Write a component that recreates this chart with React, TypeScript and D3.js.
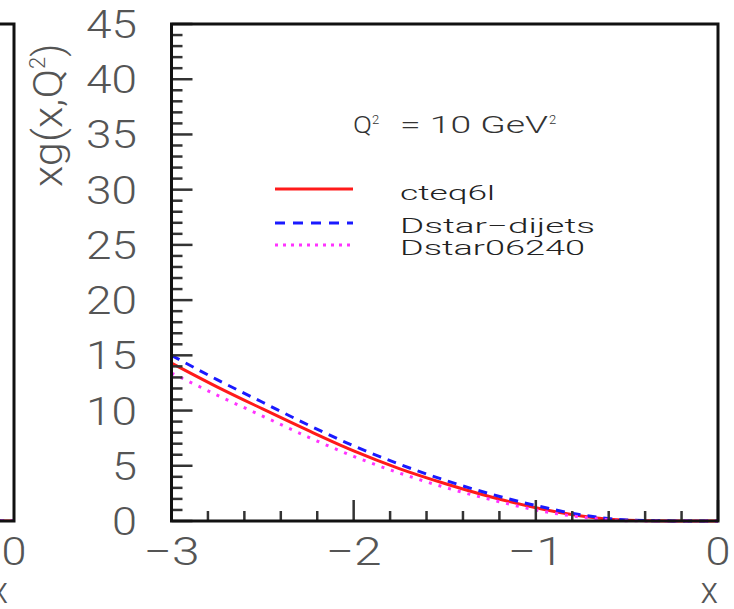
import React from "react";
import * as d3 from "d3";

const xs = [-3, -2.75, -2.5, -2.25, -2, -1.75, -1.5, -1.25, -1, -0.75, -0.5, -0.25, 0];
const cteq6l = [14.3, 12.15, 10.15, 8.2, 6.35, 4.75, 3.4, 2.2, 1.2, 0.45, 0.06, 0, 0];
const dstarDijets = [15.0, 12.8, 10.75, 8.7, 6.8, 5.15, 3.7, 2.45, 1.4, 0.55, 0.1, 0.01, 0];
const dstar06240 = [13.4, 11.4, 9.5, 7.6, 5.85, 4.35, 3.05, 1.95, 1.0, 0.35, 0.03, 0, 0];

const seriesNames = ["cteq6l", "Dstar\u2212dijets", "Dstar06240"];
const seriesValues = [cteq6l, dstarDijets, dstar06240];
const seriesColors = ["#ff1a1a", "#1a1aff", "#ff33ff"];
const seriesDash = ["none", "9,7", "3,7"];
const legendDash = ["none", "10,8", "3,5"];

const xTickValues = [-3, -2, -1, 0];
const yTickValues = [0, 5, 10, 15, 20, 25, 30, 35, 40, 45];

const FONT = "Roboto, 'Liberation Sans', Arial, sans-serif";
const LABEL_COLOR = "#555";

export default function App() {
  const left = 171.5, right = 718, top = 24, bottom = 521;
  const x = d3.scaleLinear().domain([-3, 0]).range([left, right]);
  const y = d3.scaleLinear().domain([0, 45]).range([bottom, top]);
  // left (partially visible) panel shares the layout, shifted
  const xL = d3.scaleLinear().domain([-3, 0]).range([14 - (right - left), 14]);

  const mk = (sx: d3.ScaleLinear<number, number>) =>
    d3
      .line<number>()
      .x((_, i) => sx(xs[i]))
      .y((v) => y(v))
      .curve(d3.curveMonotoneX);

  const yMinor = d3.range(0, 46, 1).filter((v) => v % 5 !== 0);
  const xMinor = d3.range(-3, 0.0001, 0.2).filter((v) => Math.abs(v - Math.round(v)) > 0.01);

  const lineMain = mk(x);
  const lineLeft = mk(xL);

  const labelW = (s: string) => (s.length === 1 ? 25 : 51);

  return (
    <svg
      width={734}
      height={609}
      style={{ position: "absolute", left: 0, top: 0, background: "#fff" }}
      fontFamily={FONT}
      fontWeight={300}
    >
      <rect x={0} y={0} width={734} height={609} fill="#fff" />
      <defs>
        <clipPath id="leftclip">
          <rect x={0} y={top} width={14} height={bottom - top} />
        </clipPath>
      </defs>

      {/* left partial panel */}
      <g clipPath="url(#leftclip)">
        {seriesValues.map((vals, i) => (
          <path
            key={i}
            d={lineLeft(vals) || ""}
            fill="none"
            stroke={seriesColors[i]}
            strokeWidth={3}
            strokeDasharray={seriesDash[i]}
          />
        ))}
      </g>
      <path d={`M0,${top}H${xL(0)}V${bottom}H0`} fill="none" stroke="#111" strokeWidth={3} />
      <text x={xL(0)} y={565} fontSize={39} fill={LABEL_COLOR} textAnchor="middle" textLength={25} lengthAdjust="spacingAndGlyphs">0</text>
      <text x={8} y={603} fontSize={36} fill={LABEL_COLOR} textAnchor="end">x</text>

      {/* main curves */}
      {seriesValues.map((vals, i) => (
        <path
          key={i}
          d={lineMain(vals) || ""}
          fill="none"
          stroke={seriesColors[i]}
          strokeWidth={3}
          strokeDasharray={seriesDash[i]}
        />
      ))}

      {/* y ticks */}
      {yTickValues.map((v) => (
        <line key={"ym" + v} x1={left} x2={left + 21} y1={y(v)} y2={y(v)} stroke="#333" strokeWidth={2.5} />
      ))}
      {yMinor.map((v) => (
        <line key={"yn" + v} x1={left} x2={left + 11} y1={y(v)} y2={y(v)} stroke="#333" strokeWidth={2.5} />
      ))}
      {/* x ticks */}
      {xTickValues.map((v) => (
        <line key={"xm" + v} x1={x(v)} x2={x(v)} y1={bottom} y2={bottom - 21} stroke="#333" strokeWidth={2.5} />
      ))}
      {xMinor.map((v, i) => (
        <line key={"xn" + i} x1={x(v)} x2={x(v)} y1={bottom} y2={bottom - 10} stroke="#333" strokeWidth={2.5} />
      ))}

      {/* frame */}
      <rect x={left} y={top} width={right - left} height={bottom - top} fill="none" stroke="#111" strokeWidth={3} />

      {/* y tick labels */}
      {yTickValues.map((v) => (
        <text
          key={"yl" + v}
          x={137}
          y={y(v) + 14}
          fontSize={39}
          fill={LABEL_COLOR}
          textAnchor="end"
          textLength={labelW(String(v))}
          lengthAdjust="spacingAndGlyphs"
        >
          {v}
        </text>
      ))}
      {/* x tick labels */}
      {xTickValues.map((v) => {
        const s = v < 0 ? "\u2212" + Math.abs(v) : String(v);
        return (
          <text
            key={"xl" + v}
            x={x(v)}
            y={565}
            fontSize={39}
            fill={LABEL_COLOR}
            textAnchor="middle"
            textLength={v < 0 ? 56 : 25}
            lengthAdjust="spacingAndGlyphs"
          >
            {s}
          </text>
        );
      })}

      {/* axis titles */}
      <text x={718} y={603} fontSize={36} fill={LABEL_COLOR} textAnchor="end">x</text>
      <g transform="translate(62,187) rotate(-90)">
        <text x={0} y={0} fontSize={40} fill={LABEL_COLOR}>
          <tspan textLength={118} lengthAdjust="spacingAndGlyphs">xg(x,Q</tspan>
          <tspan fontSize={22} dy={-17}>2</tspan>
          <tspan dy={17}>)</tspan>
        </text>
      </g>

      {/* Q2 label */}
      <text x={353} y={133} fontSize={23} fill="#333" textLength={19} lengthAdjust="spacingAndGlyphs">Q</text>
      <text x={372} y={124} fontSize={13} fill="#333">2</text>
      <text x={400} y={133} fontSize={23} fill="#333" textLength={148} lengthAdjust="spacingAndGlyphs">= 10 GeV</text>
      <text x={549} y={124} fontSize={13} fill="#333">2</text>

      {/* legend */}
      {seriesNames.map((name, i) => {
        const ly = [189, 223, 245][i];
        const ty = [200, 233, 255][i];
        const tw = [95, 195, 185][i];
        return (
          <g key={"lg" + i}>
            <line x1={275} x2={353} y1={ly} y2={ly} stroke={seriesColors[i]} strokeWidth={3} strokeDasharray={legendDash[i]} />
            <text x={400} y={ty} fontSize={21} fill="#222" textLength={tw} lengthAdjust="spacingAndGlyphs">
              {name}
            </text>
          </g>
        );
      })}
    </svg>
  );
}
